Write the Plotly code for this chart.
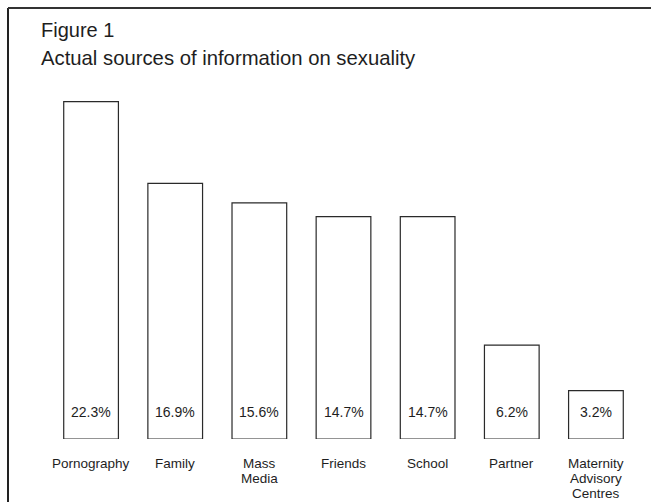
import plotly.graph_objects as go

categories = ["Pornography", "Family", "Mass<br>Media", "Friends", "School", "Partner",
              "Maternity<br>Advisory<br>Centres"]
values = [22.3, 16.9, 15.6, 14.7, 14.7, 6.2, 3.2]
value_labels = ["22.3%", "16.9%", "15.6%", "14.7%", "14.7%", "6.2%", "3.2%"]
fig_label = "Figure 1"
title_text = "Actual sources of information on sexuality"

W, H = 651, 502
L, R, T, B = 49, 13, 90, 63
plot_h = H - T - B
plot_w = W - L - R
FONT = "Liberation Sans, Arial, Helvetica, sans-serif"
INK = "#1e1e1e"

x_idx = list(range(len(categories)))

fig = go.Figure(go.Bar(
    x=x_idx, y=values, width=0.65,
    marker=dict(color="white", line=dict(color="#2a2a2a", width=1.2)),
    hoverinfo="skip",
))

def px_to_paper_y(py):
    return (H - B - py) / plot_h

def px_to_paper_x(px):
    return (px - L) / plot_w

ann = []
for i, lab in enumerate(value_labels):
    ann.append(dict(x=i, y=0, xref="x", yref="y", text=lab, showarrow=False,
                    yanchor="middle", yshift=27, font=dict(size=14, color=INK, family=FONT)))
for i, cat in enumerate(categories):
    for j, line in enumerate(cat.split("<br>")):
        ann.append(dict(x=i, y=0, xref="x", yref="y", text=line, showarrow=False,
                        yanchor="middle", yshift=-24 - 15 * j,
                        font=dict(size=13.5, color=INK, family=FONT)))

ann.append(dict(x=px_to_paper_x(39), y=px_to_paper_y(30), xref="paper", yref="paper",
                text=fig_label, showarrow=False, xanchor="left", yanchor="middle",
                font=dict(size=20, color=INK, family=FONT)))
ann.append(dict(x=px_to_paper_x(39), y=px_to_paper_y(58), xref="paper", yref="paper",
                text=title_text, showarrow=False, xanchor="left", yanchor="middle",
                font=dict(size=20.3, color=INK, family=FONT)))

shapes = [
    dict(type="line", xref="paper", yref="paper",
         x0=px_to_paper_x(8), x1=px_to_paper_x(8),
         y0=px_to_paper_y(8), y1=px_to_paper_y(H + 2),
         line=dict(color="#222222", width=2)),
    dict(type="line", xref="paper", yref="paper",
         x0=px_to_paper_x(8), x1=px_to_paper_x(W + 2),
         y0=px_to_paper_y(8), y1=px_to_paper_y(8),
         line=dict(color="#333333", width=2)),
]

fig.update_layout(
    width=W, height=H,
    margin=dict(l=L, r=R, t=T, b=B, pad=0),
    paper_bgcolor="white", plot_bgcolor="white",
    showlegend=False,
    annotations=ann, shapes=shapes,
    xaxis=dict(range=[-0.5, len(categories) - 0.5], showticklabels=False, showgrid=False,
               zeroline=False, showline=False, ticks=""),
    yaxis=dict(range=[0, plot_h / 15.13], showticklabels=False, showgrid=False,
               zeroline=False, showline=False, ticks=""),
)

fig.write_html("out.html", config={"displayModeBar": False},
               post_script="document.body.style.margin='0';document.body.style.overflow='hidden';")
